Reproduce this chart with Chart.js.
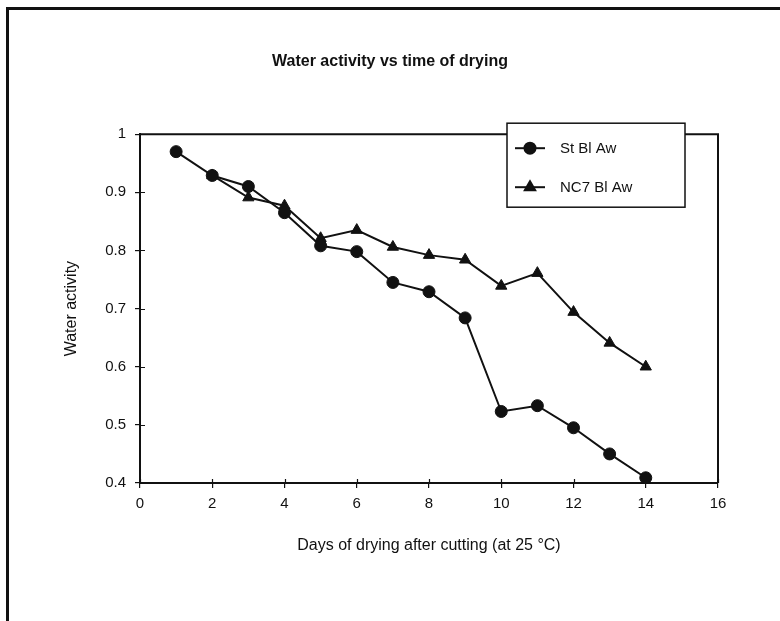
<!DOCTYPE html>
<html>
<head>
<meta charset="utf-8">
<script src="https://cdn.jsdelivr.net/npm/chart.js@4/dist/chart.umd.min.js"></script>
<style>
  html, body { margin: 0; padding: 0; background: #fff; }
  #wrap { position: relative; width: 780px; height: 621px; overflow: hidden; }
  #frame { position: absolute; left: 6px; top: 7px; width: 800px; height: 700px;
           border-left: 3px solid #111; border-top: 3px solid #111; }
  #mychart { position: absolute; left: 0; top: 0; }
</style>
</head>
<body>
<div id="wrap">
  <div id="frame"></div>
  <canvas id="mychart" width="780" height="621"></canvas>
</div>
<script>
// days after cutting
var stDays = [1, 2, 3, 4, 5, 6, 7, 8, 9, 10, 11, 12, 13, 14];
var stAw = [0.970, 0.929, 0.910, 0.865, 0.808, 0.798, 0.745, 0.729, 0.684, 0.523, 0.533, 0.495, 0.450, 0.409];

var ncDays = [2, 3, 4, 5, 6, 7, 8, 9, 10, 11, 12, 13, 14];
var ncAw = [0.929, 0.891, 0.877, 0.821, 0.835, 0.806, 0.792, 0.784, 0.739, 0.761, 0.694, 0.641, 0.600];

var labels = ['St Bl Aw', 'NC7 Bl Aw'];
var xTicks = [0, 2, 4, 6, 8, 10, 12, 14, 16];
var yTicks = [0.4, 0.5, 0.6, 0.7, 0.8, 0.9, 1];

function toPoints(xs, ys) {
    var pts = [];
    for (var i = 0; i < xs.length; i++) {
        pts.push({ x: xs[i], y: ys[i] });
    }
    return pts;
}

var ink = '#111';
var fontName = "'Liberation Sans', Arial, Helvetica, sans-serif";

// top + right border of the plot area, and the small inner half of each tick
var plotBox = {
    id: 'plotBox',
    beforeDatasetsDraw: function (chart) {
        var a = chart.chartArea;
        var c = chart.ctx;
        c.save();
        c.strokeStyle = ink;
        c.lineWidth = 2;
        c.beginPath();
        c.moveTo(a.left, a.top);
        c.lineTo(a.right, a.top);
        c.lineTo(a.right, a.bottom);
        c.stroke();
        c.lineWidth = 1.2;
        c.beginPath();
        var xs = chart.scales.x, ys = chart.scales.y;
        xs.ticks.forEach(function (t) {
            var px = Math.round(xs.getPixelForValue(t.value)) + 0.5;
            c.moveTo(px, a.bottom);
            c.lineTo(px, a.bottom - 4);
        });
        ys.ticks.forEach(function (t) {
            var py = Math.round(ys.getPixelForValue(t.value)) + 0.5;
            c.moveTo(a.left, py);
            c.lineTo(a.left + 5, py);
        });
        c.stroke();
        c.restore();
    }
};

// boxed legend sitting over the top edge of the plot
var boxLegend = {
    id: 'boxLegend',
    afterDraw: function (chart) {
        var a = chart.chartArea;
        var c = chart.ctx;
        var left = a.right - 211, top = a.top - 11, w = 178, h = 84;
        c.save();
        c.fillStyle = '#fff';
        c.fillRect(left, top, w, h);
        c.strokeStyle = ink;
        c.lineWidth = 1.5;
        c.strokeRect(left, top, w, h);
        var rows = [top + 25, top + 64];
        chart.data.datasets.forEach(function (ds, i) {
            var y = rows[i];
            c.strokeStyle = ink;
            c.lineWidth = 2;
            c.beginPath();
            c.moveTo(left + 8, y);
            c.lineTo(left + 38, y);
            c.stroke();
            c.fillStyle = ink;
            Chart.helpers.drawPoint(c, {
                pointStyle: ds.pointStyle,
                radius: ds.pointRadius - 0.5,
                borderWidth: 1
            }, left + 23, y);
            c.fillStyle = ink;
            c.font = '15px ' + fontName;
            c.textBaseline = 'middle';
            c.textAlign = 'left';
            c.fillText(ds.label, left + 53, y + 1);
        });
        c.restore();
    }
};

var ctx = document.getElementById('mychart').getContext('2d');

var mychart = new Chart(ctx, {
    type: 'line',
    data: {
        datasets: [{
            label: labels[0],
            data: toPoints(stDays, stAw),
            borderColor: ink,
            backgroundColor: ink,
            borderWidth: 2,
            pointStyle: 'circle',
            pointRadius: 6,
            pointBorderWidth: 1,
            tension: 0
        }, {
            label: labels[1],
            data: toPoints(ncDays, ncAw),
            borderColor: ink,
            backgroundColor: ink,
            borderWidth: 2,
            pointStyle: 'triangle',
            pointRadius: 6.5,
            pointBorderWidth: 1,
            tension: 0
        }]
    },
    options: {
        responsive: false,
        animation: false,
        events: [],
        layout: { padding: 0 },
        plugins: {
            legend: { display: false },
            tooltip: { enabled: false },
            title: {
                display: true,
                text: 'Water activity vs time of drying',
                color: ink,
                font: { family: fontName, size: 16, weight: 'bold' },
                padding: { top: 52, bottom: 63 }
            }
        },
        scales: {
            x: {
                type: 'linear',
                min: 0,
                max: 16,
                afterBuildTicks: function (scale) {
                    scale.ticks = xTicks.map(function (v) { return { value: v }; });
                },
                afterFit: function (scale) { scale.height = 138; },
                border: { display: true, color: ink, width: 2 },
                grid: { display: true, drawOnChartArea: false, drawTicks: true, tickLength: 5, color: ink, lineWidth: 1.2 },
                ticks: { color: ink, font: { family: fontName, size: 15 }, padding: 7 },
                title: {
                    display: true,
                    text: 'Days of drying after cutting (at 25 °C)',
                    color: ink,
                    font: { family: fontName, size: 16 },
                    padding: { top: 0, bottom: 66 }
                }
            },
            y: {
                type: 'linear',
                min: 0.4,
                max: 1,
                afterBuildTicks: function (scale) {
                    scale.ticks = yTicks.map(function (v) { return { value: v }; });
                },
                afterFit: function (scale) { scale.width = 140; },
                border: { display: true, color: ink, width: 2 },
                grid: { display: true, drawOnChartArea: false, drawTicks: true, tickLength: 5, color: ink, lineWidth: 1.2 },
                ticks: {
                    color: ink,
                    font: { family: fontName, size: 15 },
                    padding: 9,
                    callback: function (v) { return String(Math.round(v * 10) / 10); }
                },
                title: {
                    display: true,
                    text: 'Water activity',
                    color: ink,
                    font: { family: fontName, size: 16 },
                    padding: { top: 62, bottom: 0 }
                }
            },
            // empty right-hand strip so the plot ends where the original does
            side: {
                type: 'linear',
                position: 'right',
                display: true,
                afterFit: function (scale) { scale.width = 62; },
                border: { display: false },
                grid: { display: false },
                ticks: { display: false }
            }
        }
    },
    plugins: [plotBox, boxLegend]
});
</script>
</body>
</html>
